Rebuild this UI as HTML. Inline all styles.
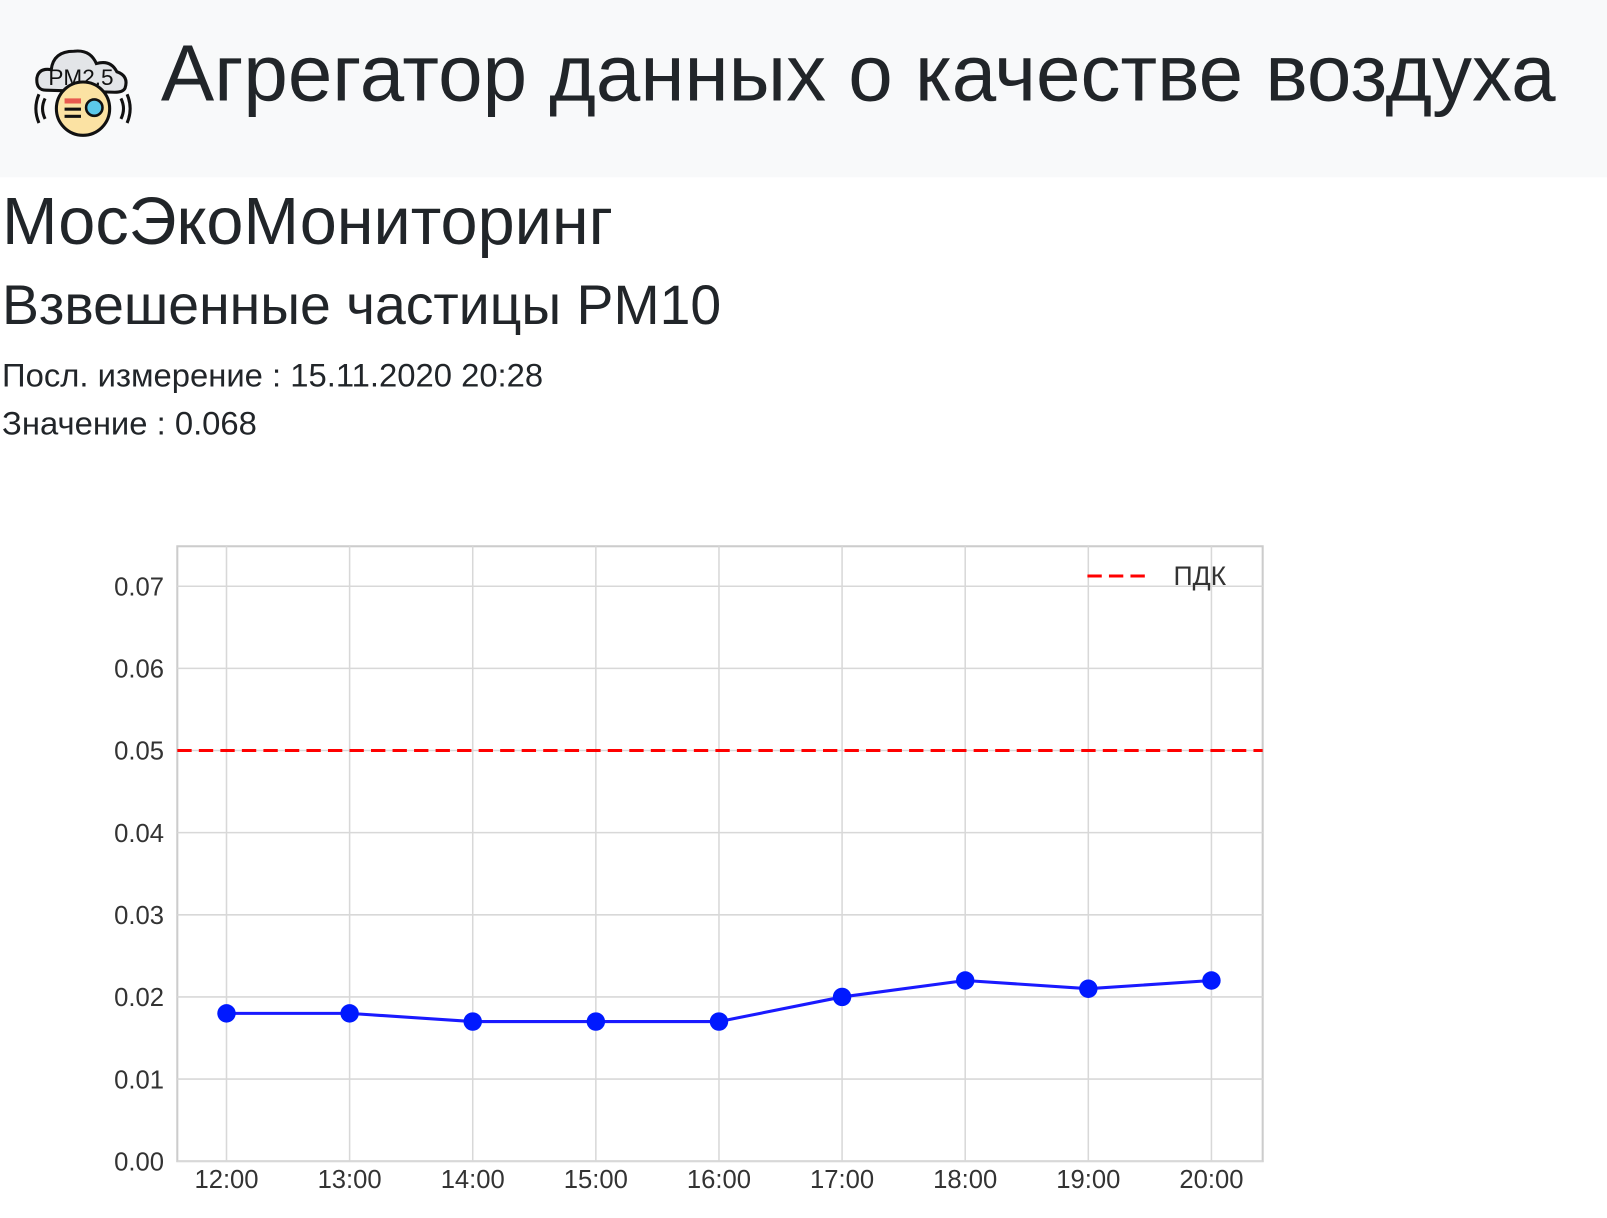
<!DOCTYPE html>
<html><head><meta charset="utf-8"><style>
body{margin:0;width:1607px;height:1217px;background:#fff;font-family:"Liberation Sans","DejaVu Sans",sans-serif;color:#212529;overflow:hidden;position:relative}
#wrap{position:absolute;left:0;top:0;width:1568px;height:1188px;transform:scale(1.0249);transform-origin:0 0}
.hdr{position:absolute;left:0;top:0;width:1568px;height:173px;background:#f8f9fa}
.t{position:absolute;white-space:nowrap;margin:0;font-weight:normal}
</style></head><body><div id="wrap">
<div class="hdr"></div>
<svg style="position:absolute;left:30px;top:40px" width="100" height="100" viewBox="0 0 100 100">
<path d="M15 48 Q5 48 6 36 Q8 26 20 28 Q22 10 42 10 Q58 8 64 22 Q78 18 84 30 Q96 34 92 46 Q90 50 82 50 Z" fill="#e3e5e8" stroke="#111" stroke-width="3"/>
<text x="49" y="43" font-size="22" font-family="Liberation Sans" text-anchor="middle" fill="#111">PM2.5</text>
<circle cx="51" cy="66" r="26" fill="#fbe2a3" stroke="#111" stroke-width="3"/>
<rect x="33" y="56" width="16" height="5" fill="#e85a4f"/><rect x="33" y="65" width="16" height="3" fill="#111"/><rect x="33" y="72" width="16" height="3" fill="#111"/>
<circle cx="62" cy="65" r="8" fill="#5bc8ea" stroke="#111" stroke-width="2.5"/>
<path d="M14 56 Q9 66 14 76 M8 52 Q2 66 8 80 M88 56 Q93 66 88 76 M94 52 Q100 66 94 80" stroke="#111" stroke-width="3" fill="none"/>
</svg>
<h1 class="t" style="left:157px;top:26px;font-size:78px">Агрегатор данных о качестве воздуха</h1>
<h2 class="t" style="left:2px;top:178px;font-size:65px">МосЭкоМониторинг</h2>
<h3 class="t" style="left:2px;top:267px;font-size:54px">Взвешенные частицы PM10</h3>
<div class="t" style="left:2px;top:348px;font-size:32px">Посл. измерение : 15.11.2020 20:28</div>
<div class="t" style="left:2px;top:395px;font-size:32px">Значение : 0.068</div>
<svg id="chart" style="position:absolute;left:0;top:0" width="1568" height="1188"></svg>
</div>
<script>
const categories=["12:00","13:00","14:00","15:00","16:00","17:00","18:00","19:00","20:00"];
const values=[0.018,0.018,0.017,0.017,0.017,0.020,0.022,0.021,0.022];
const pdk=[0.05];
const yTicks=[0,0.01,0.02,0.03,0.04,0.05,0.06,0.07];
const NS="http://www.w3.org/2000/svg",svg=document.getElementById('chart');
const L=173,R=1232,T=533,B=1133;
const x=i=>221+i*(1182-221)/(categories.length-1);
const y=v=>B-v*(B-572)/0.07;
function mk(t,a,p){const e=document.createElementNS(NS,t);for(const k in a)e.setAttribute(k,a[k]);(p||svg).appendChild(e);return e;}
const frame=mk('rect',{x:L,y:T,width:R-L,height:B-T,fill:'#fff',stroke:'#ccc','stroke-width':2});


yTicks.forEach(v=>{
 const g=mk('line',{x1:L,x2:R,y1:y(v),y2:y(v),stroke:'#d8d8d8','stroke-width':1.5});
 
 
 const t=mk('text',{x:160,y:y(v)+9,'text-anchor':'end','font-size':25,fill:'#333','font-family':'Liberation Sans'});
 
 
 t.textContent=v.toFixed(2);
});
categories.forEach((c,i)=>{
 const g=mk('line',{x1:x(i),x2:x(i),y1:T,y2:B,stroke:'#d8d8d8','stroke-width':1.5});
 
 
 const t=mk('text',{x:x(i),y:1159,'text-anchor':'middle','font-size':25,fill:'#333','font-family':'Liberation Sans'});
 
 
 t.textContent=c;
});
const pl=mk('line',{x1:L,x2:R,y1:y(pdk[0]),y2:y(pdk[0]),stroke:'#f00','stroke-width':3,'stroke-dasharray':'14 7'});


const line=mk('polyline',{points:values.map((v,i)=>x(i)+','+y(v)).join(' '),fill:'none',stroke:'#1a1aff','stroke-width':3});


values.forEach((v,i)=>{
 const p=mk('circle',{cx:x(i),cy:y(v),r:9,fill:'#0019ff'});
 
 
});
const lg=mk('line',{x1:1061,x2:1124,y1:562,y2:562,stroke:'#f00','stroke-width':3,'stroke-dasharray':'14 7'});


const lt=mk('text',{x:1145,y:571,'font-size':26,fill:'#333','font-family':'Liberation Sans'});


lt.textContent='ПДК';
</script>
</body></html>
